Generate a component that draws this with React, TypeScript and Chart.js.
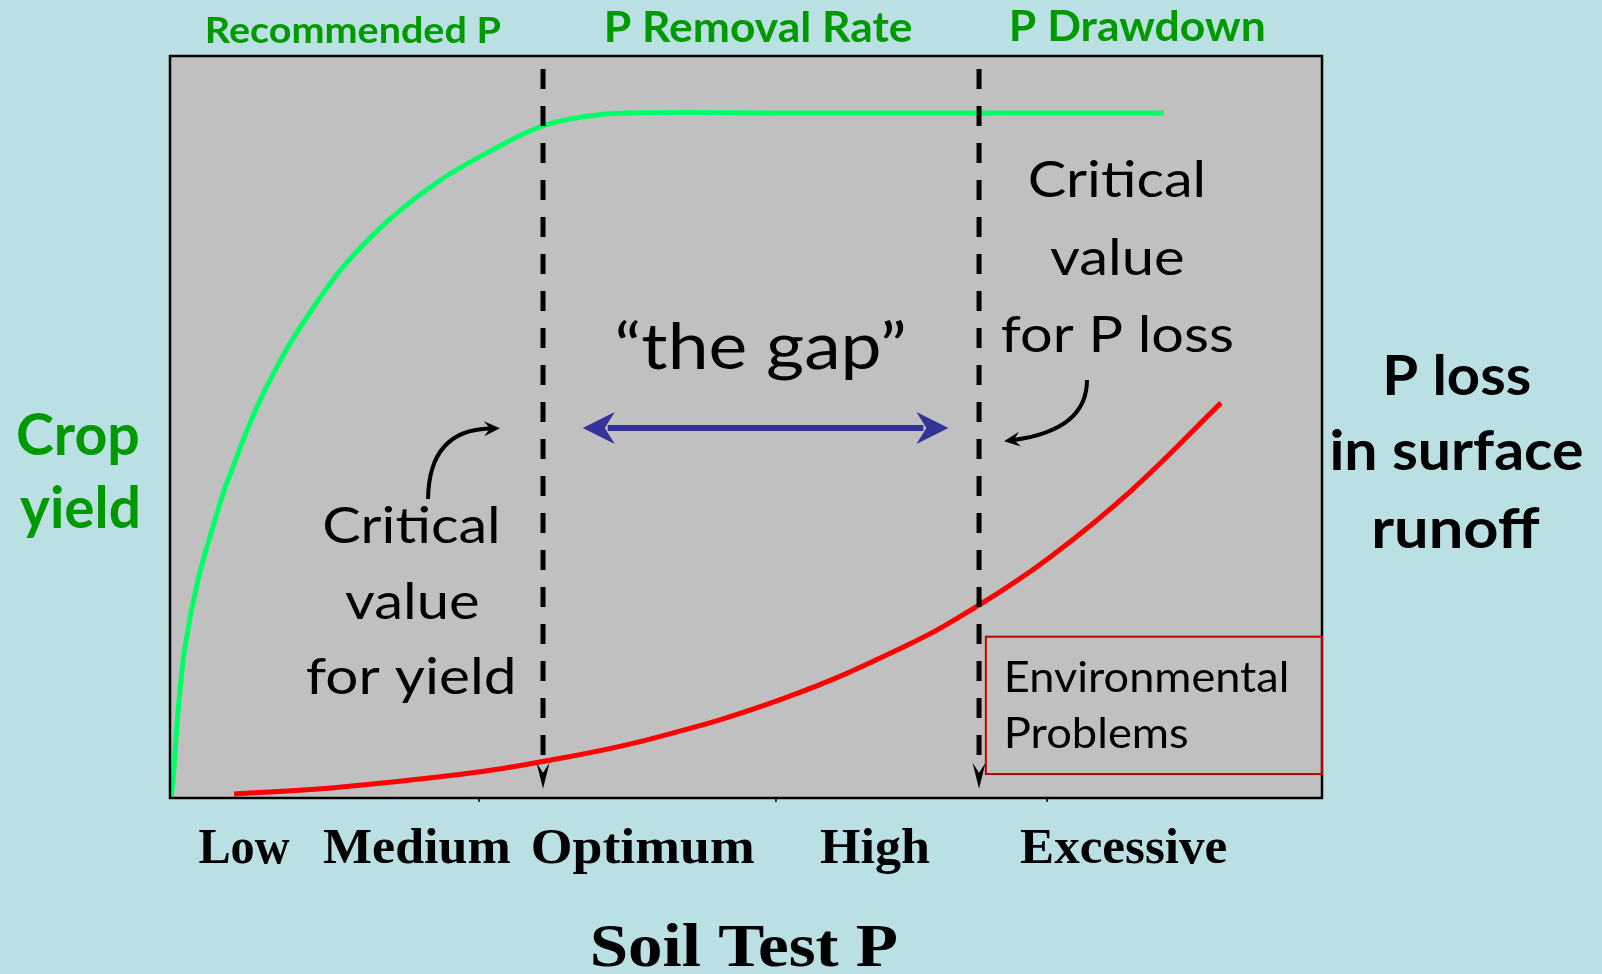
import React, { useEffect, useRef } from "react";
import { Chart, registerables } from "chart.js";
Chart.register(...registerables);

// ---- data (x: soil test P, 0–100 across the plot; y: relative response, 0–100) ----
const yieldX = [0.09, 0.26, 0.69, 1.3, 2.43, 3.91, 5.03, 8.25, 12.59, 16.93, 22.74, 28.47, 32.38, 36.02, 39.5, 54.69, 86.28];
const yieldY = [0, 2.43, 11.46, 20.35, 29.38, 37.47, 42.86, 54.99, 66.44, 74.8, 82.48, 87.74, 90.57, 91.85, 92.32, 92.32, 92.32];

const lossX = [5.56, 13.98, 25.61, 32.47, 41.67, 53.39, 63.89, 70.14, 76.3, 83.42, 91.23];
const lossY = [0.54, 1.36, 3.26, 4.95, 7.94, 13.49, 20.51, 25.92, 32.35, 41.4, 53.25];

const criticalX = [32.38, 70.23];
const criticalTop = 98.25;
const criticalBottom = 4.6;

const gapShaftX = [38.0, 65.4];
const gapY = 49.87;

const categories = ["Low", "Medium", "Optimum", "High", "Excessive"];
const categoryX = [6.42, 21.4, 41.1, 61.2, 82.73];
const boundaryTicks = [26.82, 52.6, 76.13];

const zones = ["Recommended P", "P Removal Rate", "P Drawdown"];
const zoneX = [15.97, 51.17, 84.03];

const envBoxX = [70.82, 100];
const envBoxY = [3.23, 21.74];

// curved pointer arrows (quadratic: start, control, end) in data units
const pointerArrows = [
  { p0: [22.4, 40.3], c: [22.48, 49.6], p2: [27.78, 49.8] },
  { p0: [79.6, 56.33], c: [79.6, 49.6], p2: [73.26, 48.25] },
];

// ---- styles ----
const BG = "#bae0e3";
const PLOT_BG = "#c0c0c0";
const GREEN_LINE = "#00ff66";
const GREEN_TEXT = "#009a00";
const RED = "#ff0000";
const BOX_RED = "#c00000";
const BLUE = "#333399";
const SANS = "Lato, 'Open Sans', 'DejaVu Sans', sans-serif";
const SERIF = "'Liberation Serif', 'DejaVu Serif', serif";

type Lbl = { t: string; x: number; y: number; s: number; w: number; bold?: boolean; serif?: boolean; color?: string; align?: "center" | "left" };

const textLabels: Lbl[] = [
  { t: "Crop", x: 78, y: 455, s: 58, w: 120, bold: true, color: GREEN_TEXT },
  { t: "yield", x: 79, y: 528, s: 58, w: 118, bold: true, color: GREEN_TEXT },
  { t: "P loss", x: 1458, y: 395, s: 56, w: 143, bold: true },
  { t: "in surface", x: 1457, y: 470, s: 56, w: 251, bold: true },
  { t: "runoff", x: 1457, y: 548, s: 56, w: 165, bold: true },
  { t: "Critical", x: 411, y: 543, s: 50, w: 173 },
  { t: "value", x: 411.5, y: 619, s: 50, w: 133 },
  { t: "for yield", x: 410, y: 694, s: 50, w: 206 },
  { t: "Critical", x: 1116.5, y: 197, s: 50, w: 173 },
  { t: "value", x: 1116.5, y: 275, s: 50, w: 133 },
  { t: "for P loss", x: 1117, y: 352, s: 50, w: 230 },
  { t: "\u201Cthe gap\u201D", x: 761, y: 369, s: 64, w: 286 },
  { t: "Environmental", x: 1007, y: 692, s: 43, w: 279, align: "left" },
  { t: "Problems", x: 1007, y: 748, s: 43, w: 180, align: "left" },
  { t: "Soil Test P", x: 745, y: 966, s: 62, w: 304, serif: true, bold: true },
];
const zoneStyle = [
  { y: 43, s: 37, w: 294 },
  { y: 42, s: 42, w: 305 },
  { y: 41, s: 42, w: 252 },
];
const categoryStyle = { y: 863, s: 50, w: [91, 187, 221, 110, 206] };

function drawFit(ctx: CanvasRenderingContext2D, text: string, x: number, y: number, size: number, weight: string, family: string, width: number, align: "center" | "left", color: string) {
  ctx.save();
  ctx.font = `${weight} ${size}px ${family}`;
  ctx.textAlign = "left";
  ctx.textBaseline = "alphabetic";
  const m = ctx.measureText(text);
  const inkL = m.actualBoundingBoxLeft;
  const inkR = m.actualBoundingBoxRight;
  const ink = inkL + inkR;
  const sx = ink > 0 ? width / ink : 1;
  let ox: number;
  if (align === "center") ox = x - (sx * (inkR - inkL)) / 2;
  else ox = x + sx * inkL;
  ctx.translate(ox, y);
  ctx.scale(sx, 1);
  ctx.fillStyle = color;
  ctx.fillText(text, 0, 0);
  ctx.restore();
}

function stealth(ctx: CanvasRenderingContext2D, tx: number, ty: number, dx: number, dy: number, len: number, halfW: number, notch: number, color: string) {
  const d = Math.hypot(dx, dy) || 1;
  const ux = dx / d, uy = dy / d;
  const nx = -uy, ny = ux;
  const bx = tx - ux * len, by = ty - uy * len;
  const kx = tx - ux * notch, ky = ty - uy * notch;
  ctx.beginPath();
  ctx.moveTo(tx, ty);
  ctx.lineTo(bx + nx * halfW, by + ny * halfW);
  ctx.lineTo(kx, ky);
  ctx.lineTo(bx - nx * halfW, by - ny * halfW);
  ctx.closePath();
  ctx.fillStyle = color;
  ctx.fill();
}

const decorPlugin = {
  id: "decor",
  beforeDraw(chart: any) {
    const { ctx, chartArea: a, width, height } = chart;
    ctx.save();
    ctx.fillStyle = BG;
    ctx.fillRect(0, 0, width, height);
    ctx.fillStyle = PLOT_BG;
    ctx.fillRect(a.left, a.top, a.right - a.left, a.bottom - a.top);
    ctx.restore();
  },
  afterDatasetsDraw(chart: any) {
    const { ctx, chartArea: a } = chart;
    const xs = chart.scales.x, ys = chart.scales.y;
    const px = (v: number) => xs.getPixelForValue(v);
    const py = (v: number) => ys.getPixelForValue(v);
    ctx.save();

    // plot frame
    ctx.strokeStyle = "#000";
    ctx.lineWidth = 2.5;
    ctx.strokeRect(a.left, a.top, a.right - a.left, a.bottom - a.top);

    // boundary ticks
    ctx.lineWidth = 1.5;
    boundaryTicks.forEach((v) => {
      ctx.beginPath();
      ctx.moveTo(px(v), a.bottom);
      ctx.lineTo(px(v), a.bottom + 4);
      ctx.stroke();
    });

    // arrowheads of critical lines
    criticalX.forEach((v) => {
      const x = px(v);
      const y = py(criticalBottom);
      stealth(ctx, x, y + 25, 0, 1, 26, 6.5, 16, "#000");
    });

    // gap arrowheads
    stealth(ctx, px(gapShaftX[0]) - 25, py(gapY), -1, 0, 32, 16, 22, BLUE);
    stealth(ctx, px(gapShaftX[1]) + 25, py(gapY), 1, 0, 32, 16, 22, BLUE);

    // curved pointer arrows
    ctx.strokeStyle = "#000";
    ctx.lineWidth = 4;
    ctx.lineCap = "butt";
    pointerArrows.forEach((ar) => {
      const x0 = px(ar.p0[0]), y0 = py(ar.p0[1]);
      const cx = px(ar.c[0]), cy = py(ar.c[1]);
      const x2 = px(ar.p2[0]), y2 = py(ar.p2[1]);
      ctx.beginPath();
      ctx.moveTo(x0, y0);
      ctx.quadraticCurveTo(cx, cy, x2, y2);
      ctx.stroke();
      const dx = x2 - cx, dy = y2 - cy;
      const d = Math.hypot(dx, dy) || 1;
      stealth(ctx, x2 + (dx / d) * 10, y2 + (dy / d) * 10, dx, dy, 16, 7.5, 10, "#000");
    });

    // environmental box
    ctx.strokeStyle = BOX_RED;
    ctx.lineWidth = 2;
    const bx0 = px(envBoxX[0]), bx1 = px(envBoxX[1]);
    const by0 = py(envBoxY[1]), by1 = py(envBoxY[0]);
    ctx.strokeRect(bx0, by0, bx1 - bx0, by1 - by0);

    // zone labels
    zones.forEach((z, i) => {
      const st = zoneStyle[i];
      drawFit(ctx, z, px(zoneX[i]), st.y, st.s, "bold", SANS, st.w, "center", GREEN_TEXT);
    });

    // category labels
    categories.forEach((c, i) => {
      drawFit(ctx, c, px(categoryX[i]), categoryStyle.y, categoryStyle.s, "bold", SERIF, categoryStyle.w[i], "center", "#000");
    });

    // other texts
    textLabels.forEach((l) => {
      drawFit(ctx, l.t, l.x, l.y, l.s, l.bold ? "bold" : "normal", l.serif ? SERIF : SANS, l.w, l.align || "center", l.color || "#000");
    });

    ctx.restore();
  },
};

export default function App() {
  const ref = useRef<HTMLCanvasElement>(null);
  useEffect(() => {
    document.body.style.margin = "0";
    document.body.style.background = BG;
    const canvas = ref.current!;
    const chart = new Chart(canvas, {
      type: "scatter",
      data: {
        datasets: [
          ...criticalX.map((v) => ({
            data: [
              { x: v, y: criticalTop },
              { x: v, y: criticalBottom },
            ],
            showLine: true,
            borderColor: "#000",
            borderWidth: 5,
            borderDash: [20, 17],
            borderCapStyle: "butt" as const,
            pointRadius: 0,
          })),
          {
            data: [
              { x: gapShaftX[0], y: gapY },
              { x: gapShaftX[1], y: gapY },
            ],
            showLine: true,
            borderColor: BLUE,
            borderWidth: 6,
            pointRadius: 0,
          },
          {
            data: yieldX.map((x, i) => ({ x, y: yieldY[i] })),
            showLine: true,
            borderColor: GREEN_LINE,
            borderWidth: 5,
            tension: 0.4,
            borderJoinStyle: "round" as const,
            pointRadius: 0,
          },
          {
            data: lossX.map((x, i) => ({ x, y: lossY[i] })),
            showLine: true,
            borderColor: RED,
            borderWidth: 5,
            tension: 0.4,
            borderJoinStyle: "round" as const,
            pointRadius: 0,
          },
        ],
      },
      options: {
        responsive: false,
        animation: false,
        events: [],
        layout: { padding: { left: 170, top: 56, right: 280, bottom: 176 } },
        scales: {
          x: { type: "linear", min: 0, max: 100, display: false },
          y: { type: "linear", min: 0, max: 100, display: false },
        },
        plugins: { legend: { display: false }, tooltip: { enabled: false } },
      },
      plugins: [decorPlugin],
    } as any);
    return () => chart.destroy();
  }, []);
  return <canvas ref={ref} width={1602} height={974} style={{ display: "block", width: 1602, height: 974 }} />;
}
